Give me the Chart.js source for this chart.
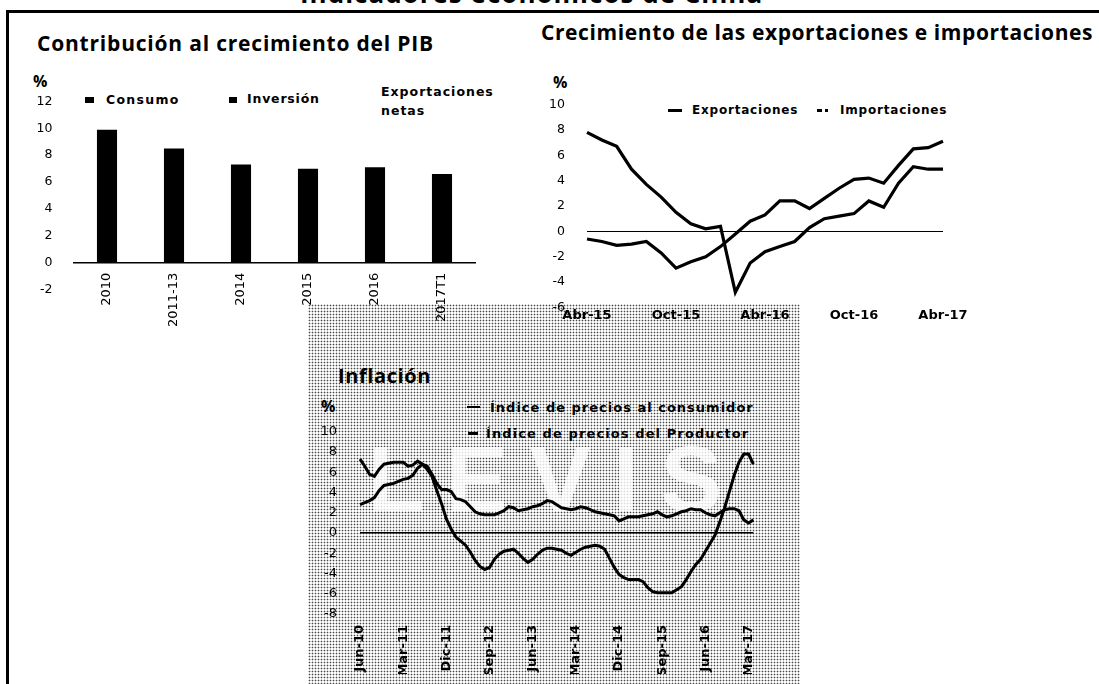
<!DOCTYPE html>
<html>
<head>
<meta charset="utf-8">
<script src="https://cdn.jsdelivr.net/npm/chart.js@4"></script>
<style>
html,body{margin:0;padding:0;background:#fff;width:1099px;height:684px;overflow:hidden;position:relative;font-family:"Open Sans",sans-serif;color:#000}
.t{position:absolute;white-space:nowrap;line-height:1;transform:translateY(-50%)}
.ttl{font-family:"Open Sans",sans-serif;font-weight:700}
.lg{font-family:"DejaVu Sans",sans-serif;font-weight:700}
.box{position:absolute;background:#000}
canvas{position:absolute}
#dots{position:absolute;left:308px;top:304px;width:492px;height:380px;background-color:#fff;background-image:radial-gradient(circle,#4a4a4a 0.65px,rgba(255,255,255,0) 1.15px);background-size:3px 3px}
#wm{position:absolute;left:368px;top:433px;font-family:"Liberation Sans",sans-serif;font-weight:700;font-size:92px;letter-spacing:22px;color:rgba(255,255,255,0.8);line-height:1;white-space:nowrap}
</style>
</head>
<body>
<!-- frame -->
<div class="t ttl" style="left:300px;transform:none;top:-20px;font-size:26px;letter-spacing:1px">Indicadores económicos de China</div>
<div class="box" style="left:6px;top:10px;width:1093px;height:2.5px"></div>
<div class="box" style="left:6px;top:10px;width:2.5px;height:674px"></div>

<!-- halftone background of the inflation panel -->
<div id="dots"></div>
<div id="wm">LEVIS</div>

<!-- Panel 1 texts -->
<div class="t ttl" style="left:37px;top:43px;font-size:21px;letter-spacing:0.8px">Contribución al crecimiento del PIB</div>
<div class="t ttl" style="left:33px;top:81px;font-size:16px">%</div>
<div class="box" style="left:85px;top:97px;width:9px;height:6px"></div>
<div class="t lg" style="left:106px;top:100px;font-size:12.5px;letter-spacing:1.3px">Consumo</div>
<div class="box" style="left:229px;top:97px;width:8px;height:6px"></div>
<div class="t lg" style="left:247px;top:99px;font-size:12.5px;letter-spacing:0.8px">Inversión</div>
<div class="t lg" style="left:381px;top:92px;font-size:12.5px;letter-spacing:1px">Exportaciones</div>
<div class="t lg" style="left:381px;top:111px;font-size:12.5px;letter-spacing:1px">netas</div>

<!-- Panel 2 texts -->
<div class="t ttl" style="left:541px;top:32px;font-size:21px;letter-spacing:0.6px">Crecimiento de las exportaciones e importaciones</div>
<div class="t ttl" style="left:553px;top:82px;font-size:16px">%</div>
<div class="box" style="left:668px;top:109px;width:14px;height:3px"></div>
<div class="t lg" style="left:692px;top:110px;font-size:12px;letter-spacing:0.8px">Exportaciones</div>
<div class="box" style="left:817px;top:109px;width:5px;height:3px"></div>
<div class="box" style="left:825px;top:109px;width:3px;height:3px"></div>
<div class="t lg" style="left:840px;top:110px;font-size:12px;letter-spacing:0.8px">Importaciones</div>

<!-- Panel 3 texts -->
<div class="t ttl" style="left:338px;top:376px;font-size:20px;letter-spacing:0.6px">Inflación</div>
<div class="t ttl" style="left:321px;top:406px;font-size:16px">%</div>
<div class="box" style="left:467px;top:406px;width:13px;height:2px"></div>
<div class="t lg" style="left:490px;top:407px;font-size:13px;letter-spacing:1px">Índice de precios al consumidor</div>
<div class="box" style="left:468px;top:432px;width:10px;height:3px"></div>
<div class="t lg" style="left:486px;top:433px;font-size:13px;letter-spacing:1.1px">Índice de precios del Productor</div>

<canvas id="c1" width="480" height="292" style="left:0px;top:72.5px"></canvas>
<canvas id="c2" width="440" height="262" style="left:530px;top:75.3px"></canvas>
<canvas id="c3" width="480" height="285" style="left:300px;top:400.6px"></canvas>

<script>
// ---------- Panel 1: Contribución al crecimiento del PIB ----------
const pibCategories = ['2010', '2011-13', '2014', '2015', '2016', '2017T1'];
const pibValues = [9.9, 8.5, 7.3, 7.0, 7.1, 6.6];
const pibTicks = [-2, 0, 2, 4, 6, 8, 10, 12];

// ---------- Panel 2: Crecimiento de las exportaciones e importaciones ----------
const tradeMonths = ['Abr-15','May-15','Jun-15','Jul-15','Ago-15','Sep-15','Oct-15','Nov-15','Dic-15',
  'Ene-16','Feb-16','Mar-16','Abr-16','May-16','Jun-16','Jul-16','Ago-16','Sep-16','Oct-16','Nov-16','Dic-16',
  'Ene-17','Feb-17','Mar-17','Abr-17'];
const tradeTickLabels = ['Abr-15', 'Oct-15', 'Abr-16', 'Oct-16', 'Abr-17'];
const exportaciones = [7.8, 7.2, 6.7, 4.9, 3.7, 2.7, 1.5, 0.6, 0.2, 0.4, -4.8, -2.5, -1.6, -1.2, -0.8,
  0.3, 1.0, 1.2, 1.4, 2.4, 1.9, 3.8, 5.1, 4.9, 4.9];
const importaciones = [-0.6, -0.8, -1.1, -1.0, -0.8, -1.7, -2.9, -2.4, -2.0, -1.2, -0.2, 0.8, 1.3, 2.4, 2.4,
  1.8, 2.6, 3.4, 4.1, 4.2, 3.8, 5.2, 6.5, 6.6, 7.1];
const tradeTicks = [-6, -4, -2, 0, 2, 4, 6, 8, 10];

// ---------- Panel 3: Inflación ----------
const inflMonths = ['Jun-10','Jul-10','Ago-10','Sep-10','Oct-10','Nov-10','Dic-10',
  'Ene-11','Feb-11','Mar-11','Abr-11','May-11','Jun-11','Jul-11','Ago-11','Sep-11','Oct-11','Nov-11','Dic-11',
  'Ene-12','Feb-12','Mar-12','Abr-12','May-12','Jun-12','Jul-12','Ago-12','Sep-12','Oct-12','Nov-12','Dic-12',
  'Ene-13','Feb-13','Mar-13','Abr-13','May-13','Jun-13','Jul-13','Ago-13','Sep-13','Oct-13','Nov-13','Dic-13',
  'Ene-14','Feb-14','Mar-14','Abr-14','May-14','Jun-14','Jul-14','Ago-14','Sep-14','Oct-14','Nov-14','Dic-14',
  'Ene-15','Feb-15','Mar-15','Abr-15','May-15','Jun-15','Jul-15','Ago-15','Sep-15','Oct-15','Nov-15','Dic-15',
  'Ene-16','Feb-16','Mar-16','Abr-16','May-16','Jun-16','Jul-16','Ago-16','Sep-16','Oct-16','Nov-16','Dic-16',
  'Ene-17','Feb-17','Mar-17','Abr-17'];
const inflTickLabels = ['Jun-10','Mar-11','Dic-11','Sep-12','Jun-13','Mar-14','Dic-14','Sep-15','Jun-16','Mar-17'];
const ipc = [2.8, 3.0, 3.2, 3.5, 4.2, 4.7, 4.8, 4.9, 5.1, 5.3, 5.4, 5.7, 6.4, 6.8, 6.6, 5.8, 4.9, 4.3, 4.3,
  4.1, 3.4, 3.3, 3.1, 2.6, 2.1, 1.9, 1.8, 1.8, 1.8, 2.0, 2.2, 2.6, 2.5, 2.2, 2.3, 2.4, 2.6, 2.7, 2.9,
  3.2, 3.1, 2.8, 2.5, 2.4, 2.3, 2.4, 2.6, 2.5, 2.3, 2.1, 2.0, 1.9, 1.8, 1.7, 1.2, 1.4, 1.6, 1.6, 1.6,
  1.7, 1.8, 1.9, 2.1, 1.8, 1.6, 1.7, 1.9, 2.1, 2.2, 2.4, 2.3, 2.3, 2.0, 1.8, 1.7, 2.0, 2.3, 2.4, 2.4,
  2.2, 1.3, 1.0, 1.3];
const ipp = [7.3, 6.6, 5.8, 5.6, 6.3, 6.8, 6.9, 7.0, 7.0, 7.0, 6.6, 6.7, 7.1, 6.8, 6.3, 5.6, 4.2, 2.9, 1.4,
  0.4, -0.4, -0.8, -1.2, -1.9, -2.7, -3.3, -3.6, -3.4, -2.6, -2.1, -1.8, -1.7, -1.6, -2.0, -2.5, -2.9, -2.6,
  -2.1, -1.7, -1.5, -1.5, -1.6, -1.7, -2.0, -2.2, -1.9, -1.6, -1.4, -1.3, -1.2, -1.3, -1.6, -2.5, -3.4, -4.1,
  -4.4, -4.6, -4.6, -4.6, -4.8, -5.4, -5.8, -5.9, -5.9, -5.9, -5.9, -5.6, -5.3, -4.6, -3.8, -3.1, -2.6, -1.8,
  -1.0, -0.2, 1.1, 2.5, 4.1, 5.7, 7.0, 7.8, 7.8, 6.8];
const inflTicks = [-8, -6, -4, -2, 0, 2, 4, 6, 8, 10];

const BLACK = '#000';
const baseOpts = {
  responsive: false,
  animation: false,
  events: [],
  plugins: { legend: { display: false }, tooltip: { enabled: false } }
};
const zeroLine = (ctx) => (ctx.tick && ctx.tick.value === 0) ? BLACK : 'rgba(0,0,0,0)';
const fixedTicks = (arr) => (s) => { s.ticks = arr.map(v => ({ value: v })); };

// Panel 1
new Chart(document.getElementById('c1'), {
  type: 'bar',
  data: {
    labels: pibCategories,
    datasets: [{ label: 'Contribución', data: pibValues, backgroundColor: BLACK,
      barPercentage: 0.3, categoryPercentage: 1 }]
  },
  options: Object.assign({}, baseOpts, {
    layout: { padding: { left: 0, right: 4.5, top: 14.5, bottom: 75.5 } },
    scales: {
      x: {
        position: { y: 0 },
        grid: { display: false, drawTicks: false },
        border: { display: true, color: BLACK, width: 1.5 },
        ticks: { maxRotation: 90, minRotation: 90, padding: 10, color: BLACK,
          font: { family: 'DejaVu Sans', size: 13 } }
      },
      y: {
        min: pibTicks[0], max: pibTicks[pibTicks.length - 1],
        afterBuildTicks: fixedTicks(pibTicks),
        afterFit: (s) => { s.width = 73.5; },
        grid: { display: false, drawTicks: false },
        border: { display: false },
        ticks: { autoSkip: false, padding: 21, color: BLACK, font: { family: 'DejaVu Sans', size: 12.5 } }
      }
    }
  })
});

// Panel 2
new Chart(document.getElementById('c2'), {
  type: 'line',
  data: {
    labels: tradeMonths,
    datasets: [
      { label: 'Exportaciones', data: exportaciones, borderColor: BLACK, borderWidth: 3.2, pointRadius: 0, tension: 0 },
      { label: 'Importaciones', data: importaciones, borderColor: BLACK, borderWidth: 3.2, pointRadius: 0, tension: 0 }
    ]
  },
  options: Object.assign({}, baseOpts, {
    layout: { padding: { left: 0, right: 27, top: 13.3, bottom: 7.4 } },
    scales: {
      x: {
        grid: { display: false, drawTicks: false },
        border: { display: false },
        afterFit: (s) => { s.height = 20; },
        ticks: { autoSkip: false, maxRotation: 0, minRotation: 0, padding: 0, color: BLACK,
          font: { family: 'DejaVu Sans', size: 13, weight: 'bold' },
          callback: function (v) { const l = this.getLabelForValue(v); return tradeTickLabels.includes(l) ? l : ''; } }
      },
      y: {
        min: tradeTicks[0], max: tradeTicks[tradeTicks.length - 1],
        afterBuildTicks: fixedTicks(tradeTicks),
        afterFit: (s) => { s.width = 57; },
        grid: { drawTicks: false, color: zeroLine, lineWidth: 1 },
        border: { display: false },
        ticks: { autoSkip: false, padding: 22, color: BLACK, font: { family: 'DejaVu Sans', size: 12.5 } }
      }
    }
  })
});

// Panel 3
new Chart(document.getElementById('c3'), {
  type: 'line',
  data: {
    labels: inflMonths,
    datasets: [
      { label: 'Índice de precios al consumidor', data: ipc, borderColor: BLACK, borderWidth: 3, pointRadius: 0, tension: 0 },
      { label: 'Índice de precios del Productor', data: ipp, borderColor: BLACK, borderWidth: 3, pointRadius: 0, tension: 0 }
    ]
  },
  options: Object.assign({}, baseOpts, {
    layout: { padding: { left: 0, right: 18, top: 16, bottom: 12 } },
    scales: {
      x: {
        grid: { display: false, drawTicks: false },
        border: { display: false },
        afterFit: (s) => { s.height = 60; },
        ticks: { autoSkip: false, maxRotation: 90, minRotation: 90, padding: 11, color: BLACK,
          font: { family: 'DejaVu Sans', size: 13, weight: 'bold' },
          callback: function (v) { const l = this.getLabelForValue(v); return inflTickLabels.includes(l) ? l : ''; } }
      },
      y: {
        min: inflTicks[0], max: inflTicks[inflTicks.length - 1],
        afterBuildTicks: fixedTicks(inflTicks),
        afterFit: (s) => { s.width = 60; },
        grid: { drawTicks: false, color: zeroLine, lineWidth: 1.5 },
        border: { display: false },
        ticks: { autoSkip: false, padding: 23, color: BLACK, font: { family: 'DejaVu Sans', size: 13 } }
      }
    }
  })
});
</script>
</body>
</html>
